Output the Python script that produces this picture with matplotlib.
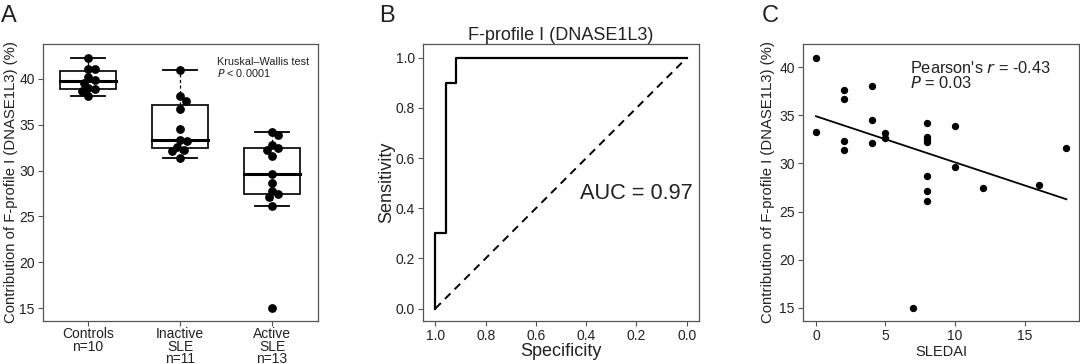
import numpy as np
from matplotlib import pyplot as plt

plt.rcParams['font.family'] = ['Liberation Sans', 'DejaVu Sans']

# panel A: contribution per group
groups = ['Controls\nn=10', 'Inactive\nSLE\nn=11', 'Active\nSLE\nn=13']
controls = [42.3, 41.1, 41.1, 40.2, 39.9, 39.6, 39.0, 38.9, 38.7, 38.1]
inactive = [41.0, 38.1, 37.6, 36.7, 34.5, 33.3, 33.2, 32.6, 32.3, 32.1, 31.4]
active = [34.2, 33.9, 32.8, 32.5, 32.2, 31.6, 29.6, 28.7, 27.8, 27.4, 27.1, 26.1, 15.0]

# panel B: ROC curve (specificity, sensitivity)
roc_spec = [1.0, 1.0, 0.958, 0.958, 0.917, 0.917, 0.0]
roc_sens = [0.0, 0.3, 0.3, 0.9, 0.9, 1.0, 1.0]

# panel C: SLEDAI vs contribution
sledai = [0, 0, 2, 2, 2, 2, 4, 4, 4, 5, 5, 7, 8, 8, 8, 8, 8, 8, 8, 10, 10, 12, 16, 18]
contrib = [41.0, 33.3, 37.6, 36.7, 32.3, 31.4, 38.1, 34.5, 32.1, 33.2, 32.6, 15.0,
           34.2, 32.8, 32.5, 32.2, 28.7, 27.1, 26.1, 33.9, 29.6, 27.4, 27.8, 31.6]

BORDER = '#555555'
TXT = '#222222'


def swarm(vals, xpx, ypx, diam):
  """ simple beeswarm offsets (in x data units) """
  placed = []
  offs = np.zeros(len(vals))
  order = np.argsort(vals)[::-1]
  cand = np.arange(0, 40, 0.5)
  cand = np.concatenate([[0], np.ravel(np.column_stack([cand[1:], -cand[1:]]))])
  for i in order:
    y = vals[i] * ypx
    for c in cand:
      if all((c - px) ** 2 + (y - py) ** 2 >= diam ** 2 for px, py in placed):
        placed.append((c, y))
        offs[i] = c / xpx
        break
  return offs


def style(ax, tick_size):
  for s in ax.spines.values():
    s.set_color(BORDER)
    s.set_linewidth(0.9)
  ax.tick_params(colors=BORDER, labelcolor=TXT, labelsize=tick_size,
                 length=3.5, width=0.8, pad=2.5)


fig = plt.figure(figsize=(10.8, 3.64), dpi=100)

# ---------- A ----------
ax = fig.add_axes([0.0398, 0.118, 0.2546, 0.761])
data = [controls, inactive, active]
for i, vals in enumerate(data):
  pos = i + 1
  v = np.array(vals)
  q1, med, q3 = np.percentile(v, [25, 50, 75])
  iqr = q3 - q1
  lo = v[v >= q1 - 1.5 * iqr].min()
  hi = v[v <= q3 + 1.5 * iqr].max()
  ax.plot([pos, pos], [q3, hi], color='k', lw=0.9, ls=(0, (2.5, 2)), zorder=1)
  ax.plot([pos, pos], [lo, q1], color='k', lw=0.9, ls=(0, (2.5, 2)), zorder=1)
  ax.plot([pos - 0.185, pos + 0.185], [hi, hi], color='k', lw=1.3, zorder=1)
  ax.plot([pos - 0.185, pos + 0.185], [lo, lo], color='k', lw=1.3, zorder=1)
  ax.add_patch(plt.Rectangle((pos - 0.3, q1), 0.6, q3 - q1, fill=False,
                             ec='#111111', lw=1.3, zorder=2))
  ax.plot([pos - 0.3, pos + 0.3], [med, med], color='k', lw=2.2, zorder=2)
  offs = swarm(v, 92.0, 9.16, 7.0)
  ax.scatter(pos + offs, v, s=40, c='k', zorder=3, linewidths=0)
ax.set_xlim(0.51, 3.5)
ax.set_ylim(13.6, 43.8)
ax.set_xticks([1, 2, 3])
ax.set_xticklabels(groups, fontsize=9.2, linespacing=0.85)
ax.set_yticks([15, 20, 25, 30, 35, 40])
ax.set_ylabel('Contribution of F-profile I (DNASE1L3) (%)', fontsize=10.7,
              color=TXT, labelpad=1)
ax.text(2.4, 42.4, 'Kruskal\u2013Wallis test\n$\\it{P}$ < 0.0001', fontsize=7.8,
        va='top', ha='left', color=TXT, linespacing=1.0)
style(ax, 10)
ax.tick_params(axis='x', pad=1.0)
fig.text(0.001, 0.985, 'A', fontsize=17, va='top', ha='left', color=TXT)

# ---------- B ----------
ax = fig.add_axes([0.3917, 0.118, 0.2556, 0.761])
ax.plot(roc_spec, roc_sens, color='k', lw=1.6)
ax.plot([1, 0], [0, 1], color='k', lw=1.4, ls=(0, (4, 3)))
ax.set_xlim(1.049, -0.049)
ax.set_ylim(-0.05, 1.055)
ax.set_xticks([1.0, 0.8, 0.6, 0.4, 0.2, 0.0])
ax.set_xticklabels(['1.0', '0.8', '0.6', '0.4', '0.2', '0.0'])
ax.set_yticks([0.0, 0.2, 0.4, 0.6, 0.8, 1.0])
ax.set_yticklabels(['0.0', '0.2', '0.4', '0.6', '0.8', '1.0'])
ax.set_xlabel('Specificity', fontsize=13, color=TXT, labelpad=0)
ax.set_ylabel('Sensitivity', fontsize=13, color=TXT, labelpad=0)
ax.set_title('F-profile I (DNASE1L3)', fontsize=13, color=TXT, pad=3)
ax.text(0.2, 0.46, 'AUC = 0.97', fontsize=15.7, ha='center', va='center', color=TXT)
style(ax, 10)
fig.text(0.351, 0.985, 'B', fontsize=17, va='top', ha='left', color=TXT)

# ---------- C ----------
ax = fig.add_axes([0.7435, 0.118, 0.2555, 0.761])
ax.scatter(sledai, contrib, s=28, c='k', linewidths=0, zorder=3)
k, b = np.polyfit(sledai, contrib, 1)
xs = np.array([min(sledai), max(sledai)])
ax.plot(xs, k * xs + b, color='k', lw=1.3)
ax.set_xlim(-0.93, 18.9)
ax.set_ylim(13.6, 42.43)
ax.set_xticks([0, 5, 10, 15])
ax.set_yticks([15, 20, 25, 30, 35, 40])
ax.set_xlabel('SLEDAI', fontsize=10.5, color=TXT, labelpad=1)
ax.set_ylabel('Contribution of F-profile I (DNASE1L3) (%)', fontsize=10.7,
              color=TXT, labelpad=3)
ax.text(6.75, 40.8, "Pearson's $\\it{r}$ = -0.43\n$\\it{P}$ = 0.03", fontsize=11.8,
        va='top', ha='left', color=TXT, linespacing=0.95)
style(ax, 10)
fig.text(0.7055, 0.985, 'C', fontsize=17, va='top', ha='left', color=TXT)

fig.savefig('out.png', dpi=100)
